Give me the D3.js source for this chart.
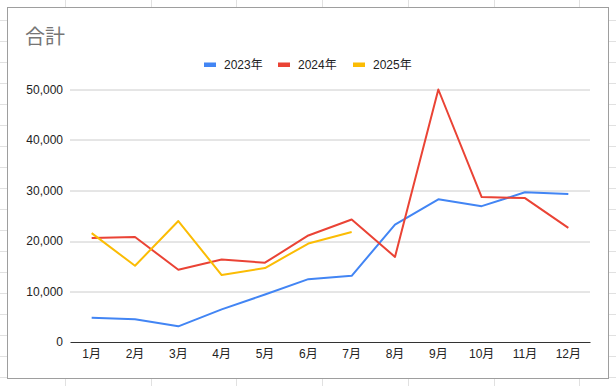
<!DOCTYPE html>
<html>
<head>
<meta charset="utf-8">
<script src="https://cdn.jsdelivr.net/npm/d3@7"></script>
<style>
  body { margin: 0; background: #fff; }
  text { font-family: Arial, "Liberation Sans", "Noto Sans CJK JP", sans-serif; }
</style>
</head>
<body>
<div id="chart"></div>
<script>
// data
var months = ['1月','2月','3月','4月','5月','6月','7月','8月','9月','10月','11月','12月'];
var seriesNames = ['2023年', '2024年', '2025年'];
var colors = ['#4285f4', '#ea4335', '#fbbc04'];
var sales2023 = [4800, 4500, 3100, 6450, 9400, 12450, 13100, 23250, 28250, 26900, 29650, 29300];
var sales2024 = [20600, 20800, 14300, 16350, 15700, 21100, 24250, 16850, 50000, 28700, 28500, 22600];
var sales2025 = [21550, 15100, 23950, 13250, 14650, 19500, 21800];
var yTicks = [0, 10000, 20000, 30000, 40000, 50000];

var series = [sales2023, sales2024, sales2025];

var fullWidth = 616, fullHeight = 386;
var margin = {top: 89.5, right: 26, bottom: 44, left: 70};
var width = fullWidth - margin.left - margin.right;
var height = fullHeight - margin.top - margin.bottom;

var svg = d3.select('#chart').append('svg')
  .attr('width', fullWidth)
  .attr('height', fullHeight);

// spreadsheet cells behind the chart
var cells = svg.append('g').attr('stroke', '#e1e1e1').attr('stroke-width', 1);
d3.range(0, 18).forEach(function(k) {
  var y = Math.round(20 + 21 * k) + 0.5;
  cells.append('line').attr('x1', 0).attr('x2', fullWidth).attr('y1', y).attr('y2', y);
});
d3.range(0, 7).forEach(function(k) {
  var x = Math.round(65 + 85.7 * k) + 0.5;
  cells.append('line').attr('x1', x).attr('x2', x).attr('y1', 0).attr('y2', fullHeight);
});

// chart box
svg.append('rect')
  .attr('x', 7.5).attr('y', 7.5)
  .attr('width', 601).attr('height', 371)
  .attr('fill', '#fff')
  .attr('stroke', '#9e9e9e');

// title
svg.append('text')
  .attr('x', 25)
  .attr('y', 44)
  .attr('fill', '#757575')
  .style('font-size', '20px')
  .text('合計');

// legend
var legendX = [204, 278, 353];
var legend = svg.append('g');
seriesNames.forEach(function(name, i) {
  legend.append('rect')
    .attr('x', legendX[i]).attr('y', 62.5)
    .attr('width', 12).attr('height', 4.5)
    .attr('fill', colors[i]);
  legend.append('text')
    .attr('x', legendX[i] + 20)
    .attr('y', 69)
    .attr('fill', '#222')
    .style('font-size', '12px')
    .text(name);
});

var g = svg.append('g')
  .attr('transform', 'translate(' + margin.left + ',' + margin.top + ')');

var xScale = d3.scaleBand()
  .domain(months)
  .range([0, width]);

var yScale = d3.scaleLinear()
  .domain([0, 50000])
  .range([height, 0]);

// gridlines
g.append('g')
  .selectAll('line')
  .data(yTicks.slice(1))
  .enter().append('line')
    .attr('x1', 0).attr('x2', width)
    .attr('y1', function(d) { return Math.round(yScale(d)) + 0.5; })
    .attr('y2', function(d) { return Math.round(yScale(d)) + 0.5; })
    .attr('stroke', '#cccccc');

// y axis labels
var yAxis = d3.axisLeft(yScale)
  .tickValues(yTicks)
  .tickFormat(d3.format(','))
  .tickSize(0)
  .tickPadding(7);
var yAxisEle = g.append('g').call(yAxis);
yAxisEle.select('.domain').remove();
yAxisEle.selectAll('text')
  .attr('fill', '#222')
  .style('font-size', '12px')
  .style('font-family', 'Arial, "Liberation Sans", sans-serif');

// x axis
var xAxis = d3.axisBottom(xScale).tickSize(0).tickPadding(7);
var xAxisEle = g.append('g')
  .attr('transform', 'translate(0,' + height + ')')
  .call(xAxis);
xAxisEle.select('.domain').attr('stroke', '#333').attr('stroke-width', 1.2);
xAxisEle.selectAll('text')
  .attr('fill', '#222')
  .style('font-size', '12px')
  .style('font-family', 'Arial, "Liberation Sans", "Noto Sans CJK JP", sans-serif');

// lines
var line = d3.line()
  .x(function(d, i) { return xScale(months[i]) + xScale.bandwidth() / 2; })
  .y(function(d) { return yScale(d); });

series.forEach(function(values, i) {
  g.append('path')
    .datum(values)
    .attr('fill', 'none')
    .attr('stroke', colors[i])
    .attr('stroke-width', 2)
    .attr('stroke-linejoin', 'round')
    .attr('d', line);
});
</script>
</body>
</html>
